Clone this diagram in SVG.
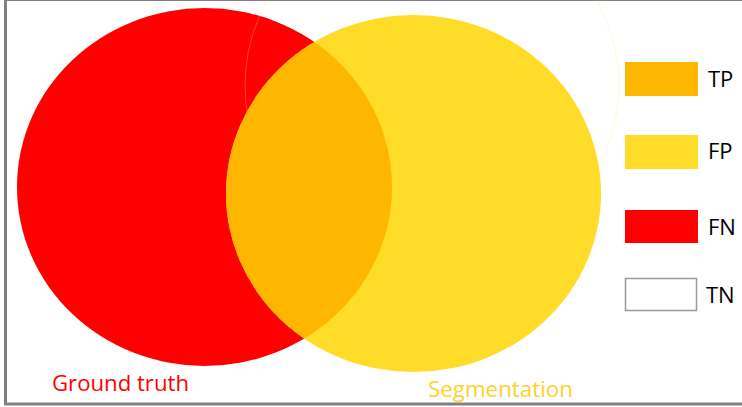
<svg xmlns="http://www.w3.org/2000/svg" width="742" height="407" viewBox="0 0 742 407">
<style>
.lbl{font-family:"Open Sans","Liberation Sans",sans-serif;font-size:22px;fill:#000}
.cap{font-family:"Open Sans","Liberation Sans",sans-serif;font-size:21px}
</style>
<defs>
<clipPath id="segClip"><ellipse cx="413.5" cy="193.5" rx="187.5" ry="178.5"/></clipPath>
</defs>
<rect x="0" y="0" width="742" height="407" fill="#fff"/>
<rect id="frame" x="5.5" y="-0.5" width="740" height="404.5" fill="none" stroke="#808080" stroke-width="3"/>
<g id="ground-truth">
<ellipse cx="204.5" cy="187" rx="187.5" ry="179" fill="#ff0000"/>
</g>
<ellipse cx="432" cy="85" rx="187" ry="179" fill="none" stroke="#ffe680" stroke-opacity="0.3" stroke-width="1"/>
<g id="segmentation">
<ellipse cx="413.5" cy="193.5" rx="187.5" ry="178.5" fill="#ffdc28"/>
</g>
<g id="overlap">
<ellipse cx="204.5" cy="187" rx="187.5" ry="179" fill="#ffb600" clip-path="url(#segClip)"/>
</g>
<g id="connectors"></g>
<g id="legend-tp">
<rect x="625" y="62" width="73" height="34" fill="#ffb600"/>
<text class="lbl" x="708" y="87">TP</text>
</g>
<g id="legend-fp">
<rect x="625" y="135" width="73" height="34" fill="#ffdc28"/>
<text class="lbl" x="708" y="159">FP</text>
</g>
<g id="legend-fn">
<rect x="625" y="210" width="73" height="33" fill="#ff0000"/>
<text class="lbl" x="708" y="235">FN</text>
</g>
<g id="legend-tn">
<rect x="625.5" y="278.5" width="71" height="32" fill="#fff" stroke="#999" stroke-width="1.5"/>
<text class="lbl" x="706" y="303">TN</text>
</g>
<text class="cap" x="52" y="391" fill="#ff0000" textLength="137" lengthAdjust="spacingAndGlyphs">Ground truth</text>
<text class="cap" x="428" y="397" fill="#ffd22a" textLength="145" lengthAdjust="spacingAndGlyphs">Segmentation</text>
</svg>
